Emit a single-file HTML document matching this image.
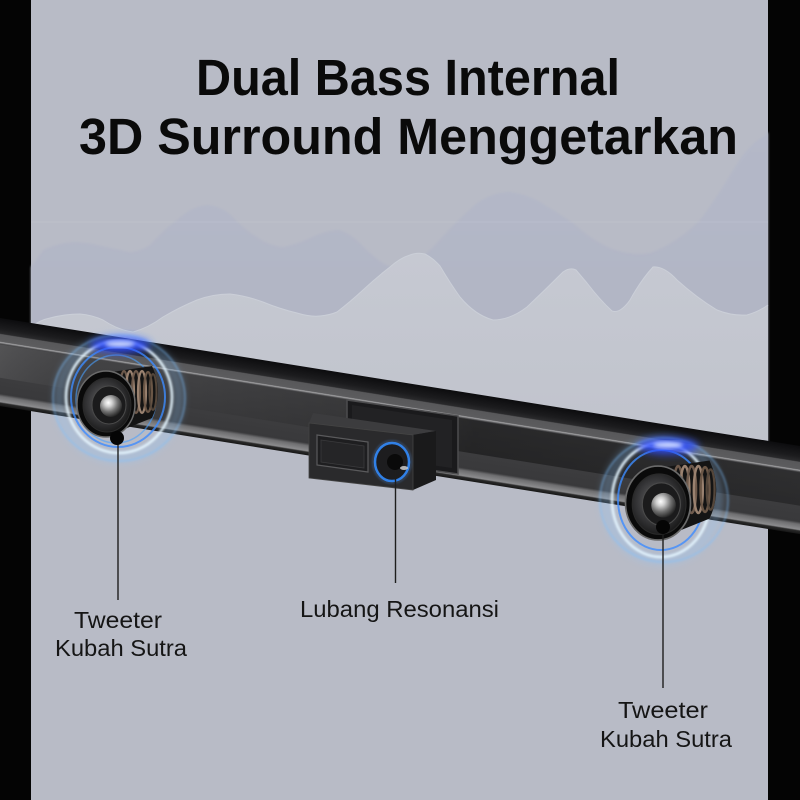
<!DOCTYPE html>
<html>
<head>
<meta charset="utf-8">
<style>
html,body{margin:0;padding:0;background:#000;}
svg{display:block;}
text{font-family:"Liberation Sans",Arial,sans-serif;}
</style>
</head>
<body>
<svg width="800" height="800" viewBox="0 0 800 800" xmlns="http://www.w3.org/2000/svg">
<defs>
  <filter id="b1" x="-20%" y="-20%" width="140%" height="140%"><feGaussianBlur stdDeviation="1"/></filter>
  <filter id="b2" x="-30%" y="-30%" width="160%" height="160%"><feGaussianBlur stdDeviation="2"/></filter>
  <filter id="b4" x="-50%" y="-50%" width="200%" height="200%"><feGaussianBlur stdDeviation="4"/></filter>
  <linearGradient id="lw" x1="0" y1="0" x2="0" y2="1">
    <stop offset="0" stop-color="#c6c9d2"/>
    <stop offset="1" stop-color="#c0c3cc"/>
  </linearGradient>
  <linearGradient id="uw" x1="0" y1="0" x2="0" y2="1">
    <stop offset="0" stop-color="#b4b8c8"/>
    <stop offset="1" stop-color="#b0b4c3"/>
  </linearGradient>
  <linearGradient id="bar" x1="0" y1="0" x2="0" y2="1">
    <stop offset="0" stop-color="#0c0c0e"/>
    <stop offset="0.12" stop-color="#1c1c1e"/>
    <stop offset="0.175" stop-color="#2a2a2c"/>
    <stop offset="0.185" stop-color="#58585a"/>
    <stop offset="0.265" stop-color="#5c5c5e"/>
    <stop offset="0.275" stop-color="#a4a4a6"/>
    <stop offset="0.295" stop-color="#434345"/>
    <stop offset="0.86" stop-color="#39393b"/>
    <stop offset="0.89" stop-color="#6e6e70"/>
    <stop offset="0.95" stop-color="#8c8c8e"/>
    <stop offset="0.965" stop-color="#2a2a2a"/>
    <stop offset="1" stop-color="#161616"/>
  </linearGradient>
  <linearGradient id="barH" x1="0" y1="0" x2="1" y2="0">
    <stop offset="0" stop-color="#ffffff" stop-opacity="0.14"/>
    <stop offset="0.22" stop-color="#000" stop-opacity="0"/>
    <stop offset="0.45" stop-color="#000" stop-opacity="0.15"/>
    <stop offset="0.6" stop-color="#000" stop-opacity="0.4"/>
    <stop offset="1" stop-color="#000" stop-opacity="0.3"/>
  </linearGradient>
  <radialGradient id="cone" cx="0.45" cy="0.45" r="0.6">
    <stop offset="0" stop-color="#6a6a6c"/>
    <stop offset="0.6" stop-color="#353537"/>
    <stop offset="1" stop-color="#151515"/>
  </radialGradient>
  <radialGradient id="dome" cx="0.38" cy="0.35" r="0.7">
    <stop offset="0" stop-color="#ffffff"/>
    <stop offset="0.25" stop-color="#d0d0d0"/>
    <stop offset="0.6" stop-color="#707070"/>
    <stop offset="1" stop-color="#1c1c1c"/>
  </radialGradient>
  <g id="spk">
    <path d="M6,-32 L46,-38 Q58,-12 46,14 L6,30 Z" fill="#141414"/>
    <ellipse cx="18" cy="-12" rx="4" ry="21" fill="none" stroke="#6e5a4c" stroke-width="2.2"/>
    <ellipse cx="24" cy="-12" rx="4" ry="21" fill="none" stroke="#9a8270" stroke-width="2.2"/>
    <ellipse cx="30" cy="-12" rx="4" ry="21" fill="none" stroke="#6e5a4c" stroke-width="2.2"/>
    <ellipse cx="36" cy="-12" rx="4" ry="21" fill="none" stroke="#9a8270" stroke-width="2.2"/>
    <ellipse cx="42" cy="-12" rx="4" ry="20" fill="none" stroke="#6a5646" stroke-width="2.2"/>
    <ellipse cx="47" cy="-12" rx="3.5" ry="18" fill="none" stroke="#54463a" stroke-width="2"/>
    <ellipse cx="0" cy="0" rx="29" ry="33" fill="#0a0a0a" stroke="#6a6a6a" stroke-width="1.5"/>
    <ellipse cx="1" cy="1" rx="24" ry="27" fill="url(#cone)" stroke="#2a2a2a" stroke-width="1"/>
    <ellipse cx="3" cy="1" rx="17" ry="19" fill="#1b1b1c" stroke="#4a4a4a" stroke-width="1"/>
    <circle cx="5" cy="2" r="11" fill="url(#dome)"/>
  </g>
</defs>

<!-- background -->
<rect width="800" height="800" fill="#040404"/>
<rect x="31" y="0" width="737" height="800" fill="#b8bbc6"/>

<!-- upper wave -->
<path filter="url(#b1)" fill="url(#uw)" d="M31,267 L43,250 Q58,243 73,242 Q86,242 97,245 L130,252 Q141,251 150,245 Q163,230 177,220 Q192,206 207,205 Q222,206 233,217 Q245,230 257,237 Q270,246 283,247 Q297,244 310,238 Q326,230 340,230 Q351,234 360,243 Q372,256 383,263 Q395,270 405,268 Q420,260 433,247 Q455,222 477,203 Q493,192 510,192 Q526,194 540,202 Q557,212 573,223 Q592,240 610,248 Q630,256 650,253 Q677,243 700,220 Q718,196 733,170 Q748,145 763,137 L768,132 L768,448 L31,330 Z"/>

<!-- lower wave -->
<path fill="url(#lw)" d="M31,327 Q40,320 50,318 Q65,314 80,314 Q92,315 103,320 Q118,330 133,332 Q148,328 163,317 Q180,307 197,300 Q213,294 230,294 Q247,296 263,302 Q280,309 297,313 Q310,317 320,316 Q330,315 337,312 Q350,302 363,290 Q377,277 390,267 Q400,258 410,255 Q417,252 425,254 Q433,258 440,266 Q450,283 460,297 Q475,315 493,320 Q510,320 527,307 Q545,290 563,272 Q570,267 576,270 Q581,276 587,283 Q600,300 612,311 Q620,314 630,300 Q641,280 653,267 Q664,266 677,280 Q697,298 717,310 Q732,316 747,315 Q758,312 768,305 L768,448 L31,330 Z"/>
<path fill="none" stroke="#cbcfd8" stroke-width="1" d="M31,327 Q40,320 50,318 Q65,314 80,314 Q92,315 103,320 Q118,330 133,332 Q148,328 163,317 Q180,307 197,300 Q213,294 230,294 Q247,296 263,302 Q280,309 297,313 Q310,317 320,316 Q330,315 337,312 Q350,302 363,290 Q377,277 390,267 Q400,258 410,255 Q417,252 425,254 Q433,258 440,266 Q450,283 460,297 Q475,315 493,320 Q510,320 527,307 Q545,290 563,272 Q570,267 576,270 Q581,276 587,283 Q600,300 612,311 Q620,314 630,300 Q641,280 653,267 Q664,266 677,280 Q697,298 717,310 Q732,316 747,315 Q758,312 768,305"/>

<!-- faint horizontal line -->
<rect x="31" y="221.5" width="737" height="1" fill="#cfd2da" opacity="0.25"/>

<!-- soundbar -->
<g transform="rotate(9.09 0 318)">
  <rect x="-30" y="318" width="860" height="87" fill="url(#bar)"/>
  <rect x="-30" y="344" width="860" height="33" fill="url(#barH)"/>
</g>

<!-- mount behind box -->
<polygon points="347,400 458,416 458,474 347,458" fill="#1a1a1c" stroke="#4c4c4e" stroke-width="1.5"/>
<polygon points="352,405 452,420 452,468 352,454" fill="#222224"/>

<!-- central box -->
<polygon points="309,423 313,413 436,431 413,435" fill="#3c3c3e"/>
<polygon points="413,435 436,431 436,480 413,490" fill="#1a1a1b"/>
<polygon points="309,423 413,435 413,490 309,478" fill="#2a2a2c" stroke="#444" stroke-width="0.8"/>
<polygon points="317,435 368,442 368,472 317,465" fill="#1e1e20" stroke="#5a5a5c" stroke-width="1.2"/>
<polygon points="321,440 364,446 364,468 321,462" fill="#252527" stroke="#3a3a3c" stroke-width="0.8"/>
<ellipse cx="392" cy="462" rx="17" ry="19" fill="#1d1d1f" stroke="#2f7fe6" stroke-width="2.5"/>
<ellipse cx="392" cy="462" rx="19" ry="21" fill="none" stroke="#5aa0ff" stroke-width="1" opacity="0.5" filter="url(#b1)"/>
<circle cx="395" cy="462" r="8" fill="#0a0a0a"/>
<ellipse cx="404" cy="468" rx="4" ry="2" fill="#d8d8d8" opacity="0.8"/>

<!-- left speaker glow -->
<ellipse cx="119" cy="398" rx="60" ry="60" fill="none" stroke="#8fc8ff" stroke-width="10" opacity="0.3" filter="url(#b4)"/>
<ellipse cx="119" cy="398" rx="66" ry="63" fill="none" stroke="#7ec0ff" stroke-width="1.5" opacity="0.55" filter="url(#b1)"/>
<ellipse cx="119" cy="397" rx="53" ry="56" fill="none" stroke="#e4f5ff" stroke-width="2.5" filter="url(#b1)"/>
<ellipse cx="118" cy="397" rx="47" ry="50" fill="none" stroke="#3d8cff" stroke-width="2" opacity="0.8"/>
<ellipse cx="116" cy="399" rx="40" ry="44" fill="none" stroke="#4aa0ff" stroke-width="1.5" opacity="0.6"/>
<ellipse cx="120" cy="345" rx="30" ry="8" fill="#2f4dff" opacity="0.9" filter="url(#b4)"/>
<ellipse cx="120" cy="344" rx="15" ry="3" fill="#d0dcff" filter="url(#b2)"/>
<use href="#spk" transform="translate(106,404)"/>

<!-- right speaker glow -->
<ellipse cx="662" cy="500" rx="56" ry="60" fill="none" stroke="#8fc8ff" stroke-width="10" opacity="0.3" filter="url(#b4)"/>
<ellipse cx="664" cy="500" rx="64" ry="62" fill="none" stroke="#7ec0ff" stroke-width="1.5" opacity="0.55" filter="url(#b1)"/>
<ellipse cx="661" cy="500" rx="49" ry="57" fill="none" stroke="#e4f5ff" stroke-width="2.5" filter="url(#b1)"/>
<ellipse cx="661" cy="500" rx="43" ry="50" fill="none" stroke="#3d8cff" stroke-width="2" opacity="0.8"/>
<ellipse cx="668" cy="446" rx="30" ry="8" fill="#2f4dff" opacity="0.9" filter="url(#b4)"/>
<ellipse cx="668" cy="445" rx="15" ry="3" fill="#d0dcff" filter="url(#b2)"/>
<use href="#spk" transform="translate(658,503) scale(1.12)"/>

<!-- pointer dots & lines -->
<line x1="118" y1="438" x2="118" y2="600" stroke="#1e1e1e" stroke-width="1.4"/>
<circle cx="117" cy="438" r="7" fill="#050505"/>
<line x1="395.5" y1="470" x2="395.5" y2="583" stroke="#1e1e1e" stroke-width="1.4"/>
<line x1="663" y1="527" x2="663" y2="688" stroke="#1e1e1e" stroke-width="1.4"/>
<circle cx="663" cy="527" r="7" fill="#050505"/>

<!-- title -->
<text x="196" y="95" font-size="51" font-weight="bold" fill="#0a0a0a" textLength="424" lengthAdjust="spacingAndGlyphs">Dual Bass Internal</text>
<text x="79" y="154" font-size="51" font-weight="bold" fill="#0a0a0a" textLength="659" lengthAdjust="spacingAndGlyphs">3D Surround Menggetarkan</text>

<!-- labels -->
<text x="74" y="628" font-size="23" fill="#151515" textLength="88" lengthAdjust="spacingAndGlyphs">Tweeter</text>
<text x="55" y="656" font-size="23" fill="#151515" textLength="132" lengthAdjust="spacingAndGlyphs">Kubah Sutra</text>
<text x="300" y="617" font-size="23" fill="#151515" textLength="199" lengthAdjust="spacingAndGlyphs">Lubang Resonansi</text>
<text x="618" y="718" font-size="23" fill="#151515" textLength="90" lengthAdjust="spacingAndGlyphs">Tweeter</text>
<text x="600" y="747" font-size="23" fill="#151515" textLength="132" lengthAdjust="spacingAndGlyphs">Kubah Sutra</text>
</svg>
</body>
</html>
